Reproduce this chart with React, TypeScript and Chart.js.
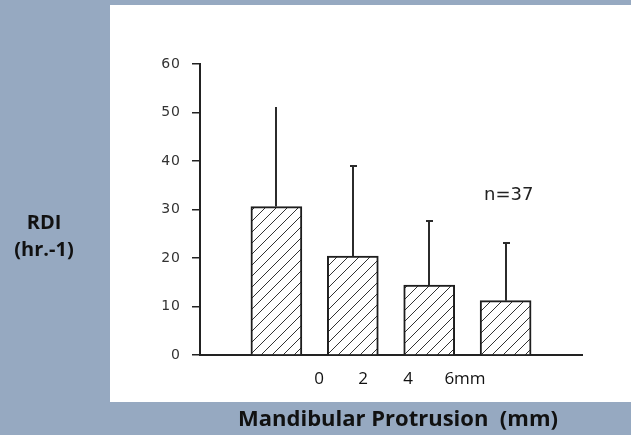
import React, { useEffect, useRef } from 'react';
import { Chart, registerables } from 'chart.js';

Chart.register(...registerables);

// ---- data ----
const barPositions = [1, 2, 3, 4];
const meanRDI = [30.6, 20.4, 14.4, 11.2];
const sdRDI = [20.5, 18.6, 13.3, 11.8];
const capShown = [false, true, true, true];
const yTickValues = [0, 10, 20, 30, 40, 50, 60];
const protrusionLabels = ['0', '2', '4', '6mm'];
const sampleNote = 'n=37';
const yTitleLines = ['RDI', '(hr.-1)'];
const xTitle = 'Mandibular Protrusion  (mm)';

// ---- layout (kept separate from data) ----
const protrusionLabelX = [319, 363, 408, 465];

function makeHatch(ctx: CanvasRenderingContext2D) {
  const s = 11;
  const c = document.createElement('canvas');
  c.width = s;
  c.height = s;
  const g = c.getContext('2d')!;
  g.fillStyle = '#ffffff';
  g.fillRect(0, 0, s, s);
  g.strokeStyle = '#333333';
  g.lineWidth = 1;
  g.beginPath();
  g.moveTo(0, s);
  g.lineTo(s, 0);
  g.moveTo(-2, 2);
  g.lineTo(2, -2);
  g.moveTo(s - 2, s + 2);
  g.lineTo(s + 2, s - 2);
  g.stroke();
  return ctx.createPattern(c, 'repeat');
}

const spacingPlugin = {
  id: 'tickSpacing',
  beforeDraw(chart: any) {
    (chart.ctx as any).letterSpacing = '1px';
  },
  beforeDatasetsDraw(chart: any) {
    (chart.ctx as any).letterSpacing = '0px';
  },
};

const errorBarPlugin = {
  id: 'errorBars',
  afterDatasetsDraw(chart: any) {
    const { ctx, scales } = chart;
    const xs = scales.x;
    const ys = scales.y;
    ctx.save();
    ctx.strokeStyle = '#2b2b2b';
    ctx.lineWidth = 2;
    barPositions.forEach((p, i) => {
      const px = Math.round(xs.getPixelForValue(p));
      const yBase = ys.getPixelForValue(meanRDI[i]);
      const yTop = Math.round(ys.getPixelForValue(meanRDI[i] + sdRDI[i]));
      ctx.beginPath();
      ctx.moveTo(px, yBase);
      ctx.lineTo(px, yTop);
      if (capShown[i]) {
        ctx.moveTo(px - 3, yTop);
        ctx.lineTo(px + 4, yTop);
      }
      ctx.stroke();
    });
    ctx.restore();
  },
};

export default function App() {
  const canvasRef = useRef<HTMLCanvasElement | null>(null);

  useEffect(() => {
    const canvas = canvasRef.current;
    if (!canvas) return;
    const ctx = canvas.getContext('2d')!;
    const hatch = makeHatch(ctx);
    const chart = new Chart(ctx, {
      type: 'bar',
      data: {
        datasets: [
          {
            data: barPositions.map((x, i) => ({ x, y: meanRDI[i] })),
            backgroundColor: hatch as any,
            borderColor: '#1e1e1e',
            borderWidth: 2,
            barThickness: 51,
          },
        ],
      },
      options: {
        animation: false,
        responsive: false,
        maintainAspectRatio: false,
        layout: { padding: { left: 140, top: 64, right: 49, bottom: 80 } },
        plugins: { legend: { display: false }, tooltip: { enabled: false } },
        scales: {
          x: {
            type: 'linear',
            min: 0,
            max: 5,
            offset: false,
            afterFit: (s: any) => {
              s.height = 0;
            },
            ticks: { display: false },
            grid: { display: false },
            border: { display: true, color: '#222', width: 2 },
          },
          y: {
            min: 0,
            max: 60,
            afterFit: (s: any) => {
              s.width = 60;
            },
            afterBuildTicks: (s: any) => {
              s.ticks = yTickValues.map((v) => ({ value: v }));
            },
            ticks: {
              font: { family: 'DejaVu Sans', size: 14 },
              color: '#333',
              padding: 11,
            },
            grid: {
              drawOnChartArea: false,
              drawTicks: true,
              tickLength: 8,
              color: '#222',
              lineWidth: 1.5,
            },
            border: { display: true, color: '#222', width: 2 },
          },
        },
      } as any,
      plugins: [spacingPlugin, errorBarPlugin],
    });
    return () => chart.destroy();
  }, []);

  const calibriLike = '"Open Sans", "Liberation Sans", sans-serif';

  return (
    <div
      style={{
        position: 'fixed',
        left: 0,
        top: 0,
        width: 631,
        height: 435,
        background: '#96a9c1',
        overflow: 'hidden',
      }}
    >
      <div
        style={{
          position: 'absolute',
          left: 110,
          top: 5,
          width: 521,
          height: 397,
          background: '#ffffff',
        }}
      />
      <canvas
        ref={canvasRef}
        width={631}
        height={435}
        style={{ position: 'absolute', left: 0, top: 0, width: 631, height: 435 }}
      />
      <div
        style={{
          position: 'absolute',
          left: 0,
          width: 88,
          top: 208,
          textAlign: 'center',
          fontFamily: calibriLike,
          fontWeight: 700,
          fontSize: 20,
          lineHeight: '27px',
          color: '#111',
        }}
      >
        {yTitleLines.map((t) => (
          <div key={t}>{t}</div>
        ))}
      </div>
      {protrusionLabels.map((t, i) => (
        <div
          key={t}
          style={{
            position: 'absolute',
            left: protrusionLabelX[i],
            top: 366,
            transform: 'translateX(-50%)',
            fontFamily: calibriLike,
            fontSize: 17,
            lineHeight: '24px',
            color: '#111',
            whiteSpace: 'pre',
          }}
        >
          {t}
        </div>
      ))}
      <div
        style={{
          position: 'absolute',
          left: 484,
          top: 182,
          fontFamily: '"DejaVu Sans", sans-serif',
          fontSize: 18,
          lineHeight: '24px',
          color: '#222',
        }}
      >
        {sampleNote}
      </div>
      <div
        style={{
          position: 'absolute',
          left: 398,
          top: 403,
          transform: 'translateX(-50%)',
          fontFamily: calibriLike,
          fontWeight: 700,
          fontSize: 22,
          lineHeight: '28px',
          color: '#111',
          whiteSpace: 'pre',
        }}
      >
        {xTitle}
      </div>
    </div>
  );
}
